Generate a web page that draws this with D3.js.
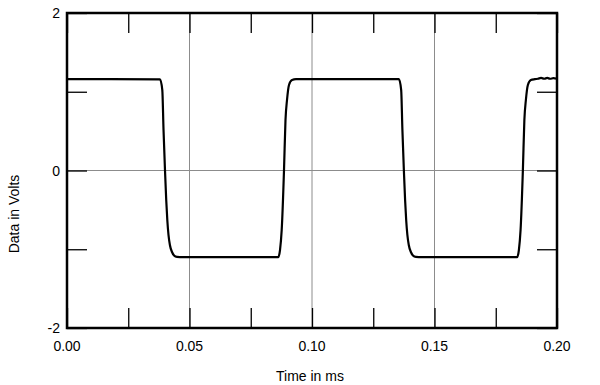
<!DOCTYPE html>
<html><head><meta charset="utf-8">
<script src="https://cdn.jsdelivr.net/npm/d3@7"></script>
<style>body{margin:0;background:#fff}svg{display:block}text{font-family:"Liberation Sans",Arial,sans-serif;fill:#000}</style>
</head><body>
<script>
// ---- data ----
const xTickValues = [0, 0.05, 0.10, 0.15, 0.20];
const xTickLabels = ["0.00", "0.05", "0.10", "0.15", "0.20"];
const xMinorTicks = [0.025, 0.075, 0.125, 0.175];
const yTickValues = [-2, 0, 2];
const yTickLabels = ["-2", "0", "2"];
const yMinorTicks = [-1, 1];
const xGrid = [0.05, 0.10, 0.15];
const yGrid = [0];
// waveform (time in ms, volts)
const timeMs = [
  0.0000, 0.03796, 0.0389, 0.0394, 0.0400, 0.0405, 0.04094, 0.04143, 0.0420, 0.04286, 0.0437, 0.0449, 0.0461,
  0.08624, 0.08694, 0.08763, 0.08857, 0.08918, 0.0898, 0.09061, 0.09184, 0.09347,
  0.13546, 0.1364, 0.1369, 0.1375, 0.1380, 0.13844, 0.13893, 0.1395, 0.14036, 0.1412, 0.1424, 0.1436,
  0.18374, 0.18444, 0.18513, 0.18607, 0.18668, 0.1873, 0.18811, 0.18934, 0.19097,
  0.1922, 0.1935, 0.1948, 0.1960, 0.1972, 0.1985, 0.2000
];
const volts = [
  1.16, 1.158, 1.022, 0.514, 0.0, -0.375, -0.629, -0.819, -0.946, -1.035, -1.079, -1.098, -1.10,
  -1.10, -1.01, -0.756, 0.0, 0.641, 0.895, 1.086, 1.149, 1.16,
  1.16, 1.022, 0.514, 0.0, -0.375, -0.629, -0.819, -0.946, -1.035, -1.079, -1.098, -1.10,
  -1.10, -1.01, -0.756, 0.0, 0.641, 0.895, 1.086, 1.149, 1.16,
  1.165, 1.175, 1.165, 1.175, 1.165, 1.172, 1.165
];
const xTitle = "Time in ms";
const yTitle = "Data in Volts";

// ---- layout ----
const W = 600, H = 385;
const m = {left: 67, right: 43, top: 13, bottom: 57};
const iw = W - m.left - m.right, ih = H - m.top - m.bottom;
const x = d3.scaleLinear().domain([0, 0.20]).range([m.left, m.left + iw]);
const y = d3.scaleLinear().domain([-2, 2]).range([m.top + ih, m.top]);
const tickLen = 20;

const svg = d3.select("body").append("svg").attr("width", W).attr("height", H);

// gridlines
svg.append("g").selectAll("line").data(xGrid).join("line")
  .attr("x1", d => x(d)).attr("x2", d => x(d)).attr("y1", y(2)).attr("y2", y(-2))
  .attr("stroke", "#8c8c8c").attr("stroke-width", 1);
svg.append("g").selectAll("line").data(yGrid).join("line")
  .attr("x1", x(0)).attr("x2", x(0.2)).attr("y1", d => y(d)).attr("y2", d => y(d))
  .attr("stroke", "#8c8c8c").attr("stroke-width", 1);

// inward ticks via d3 axes
const allX = xTickValues.concat(xMinorTicks);
const allY = yTickValues.concat(yMinorTicks);
function styleAxis(g){ g.select(".domain").remove(); g.selectAll(".tick line").attr("stroke","#000").attr("stroke-width",1.3); g.selectAll("text").remove(); }
svg.append("g").attr("transform", `translate(0,${y(-2)})`)
  .call(d3.axisBottom(x).tickValues(allX).tickSize(-tickLen)).call(styleAxis);
svg.append("g").attr("transform", `translate(0,${y(2)})`)
  .call(d3.axisTop(x).tickValues(allX).tickSize(-tickLen)).call(styleAxis);
svg.append("g").attr("transform", `translate(${x(0)},0)`)
  .call(d3.axisLeft(y).tickValues(allY).tickSize(-tickLen)).call(styleAxis);
svg.append("g").attr("transform", `translate(${x(0.2)},0)`)
  .call(d3.axisRight(y).tickValues(allY).tickSize(-tickLen)).call(styleAxis);

// waveform
const pts = timeMs.map((t, i) => [t, volts[i]]);
svg.append("path").datum(pts)
  .attr("fill", "none").attr("stroke", "#000").attr("stroke-width", 2.2)
  .attr("stroke-linejoin", "round")
  .attr("d", d3.line().x(d => x(d[0])).y(d => y(d[1])).curve(d3.curveMonotoneX));

// frame
svg.append("rect").attr("x", x(0)).attr("y", y(2)).attr("width", x(0.2) - x(0)).attr("height", y(-2) - y(2))
  .attr("fill", "none").attr("stroke", "#000").attr("stroke-width", 2.5);

// tick labels
svg.append("g").selectAll("text").data(xTickValues).join("text")
  .attr("x", d => x(d)).attr("y", y(-2) + 23).attr("text-anchor", "middle")
  .attr("font-size", 14).text((d, i) => xTickLabels[i]);
svg.append("g").selectAll("text").data(yTickValues).join("text")
  .attr("x", x(0) - 7).attr("y", d => y(d) + 5).attr("text-anchor", "end")
  .attr("font-size", 14).text((d, i) => yTickLabels[i]);

// titles
svg.append("text").attr("x", 310).attr("y", 381).attr("text-anchor", "middle")
  .attr("font-size", 14).text(xTitle);
svg.append("text").attr("transform", "translate(19,214) rotate(-90)").attr("text-anchor", "middle")
  .attr("font-size", 14).text(yTitle);
</script>
</body></html>
